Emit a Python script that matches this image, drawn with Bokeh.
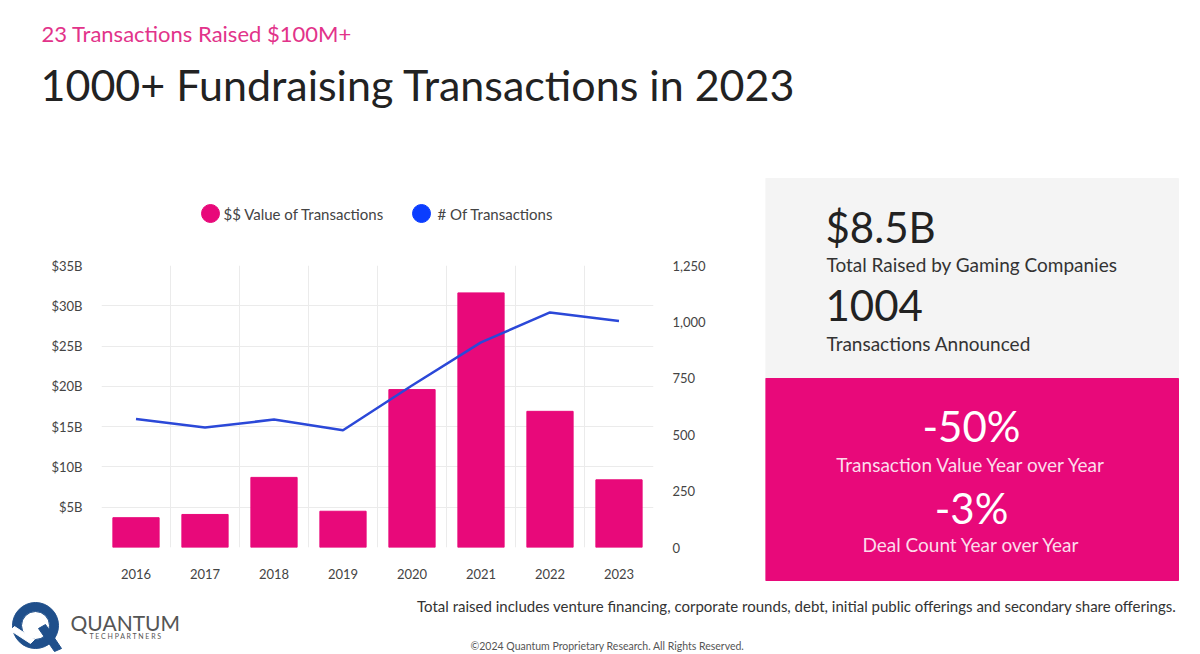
from bokeh.plotting import figure
from bokeh.models import (Range1d, LinearAxis, FixedTicker, PrintfTickFormatter,
                          NumeralTickFormatter)
from bokeh.layouts import column, row
from bokeh.core.properties import value
from bokeh.embed import file_html
from bokeh.resources import INLINE

FONT = "Lato"

# ---------------- data ----------------
years = [2016, 2017, 2018, 2019, 2020, 2021, 2022, 2023]
year_labels = ["2016", "2017", "2018", "2019", "2020", "2021", "2022", "2023"]
value_bn = [3.7, 4.1, 8.7, 4.5, 19.6, 31.6, 16.9, 8.4]
deal_count = [570, 532, 567, 520, 718, 909, 1042, 1004]
value_ticks = [5, 10, 15, 20, 25, 30, 35]
count_ticks = [0, 250, 500, 750, 1000, 1250]
series_names = ["$$ Value of Transactions", "# Of Transactions"]

subtitle = "23 Transactions Raised $100M+"
title = "1000+ Fundraising Transactions in 2023"
stat_values = ["$8.5B", "1004"]
stat_labels = ["Total Raised by Gaming Companies", "Transactions Announced"]
yoy_values = ["-50%", "-3%"]
yoy_labels = ["Transaction Value Year over Year", "Deal Count Year over Year"]
footnote = ("Total raised includes venture financing, corporate rounds, debt, "
            "initial public offerings and secondary share offerings.")
copyright_text = "\u00a92024 Quantum Proprietary Research. All Rights Reserved."
logo_name = "QUANTUM"
logo_sub = "T E C H  P A R T N E R S"

PINK = "#E8097A"
BLUE_LINE = "#2B48D8"
LEGEND_BLUE = "#0B3DFF"
GREY_BOX = "#F4F4F4"
DARK = "#222222"
LOGO_BLUE = "#1F4F8B"

W = 1200
T, M, F = 160, 430, 64
LEFT_W = 765
LEG_H = 80
FR_L, FR_R = 101, 653   # chart frame edges (page px)


def canvas(w, h):
    f = figure(width=w, height=h, x_range=Range1d(0, w), y_range=Range1d(h, 0),
               min_border=0, toolbar_location=None, output_backend="svg")
    f.axis.visible = False
    f.grid.visible = False
    f.outline_line_color = None
    return f


# ---------------- top ----------------
top = canvas(W, T)
top.text(x=[41], y=[33], text=[subtitle], text_font=value(FONT), text_font_size="22px",
         text_color="#E2338A", text_baseline="middle")
top.text(x=[40], y=[84], text=[title], text_font=value(FONT), text_font_size="43px",
         text_color=DARK, text_baseline="middle")

# ---------------- legend strip (frame aligned with chart frame) ----------------
leg = figure(width=LEFT_W, height=LEG_H, x_range=Range1d(FR_L, FR_R),
             y_range=Range1d(LEG_H, 0), min_border_left=FR_L,
             min_border_right=LEFT_W - FR_R, min_border_top=0, min_border_bottom=0,
             toolbar_location=None, output_backend="svg")
leg.axis.visible = False
leg.grid.visible = False
leg.outline_line_color = None
leg.scatter(x=[210, 421], y=[53, 53], marker="circle", size=18,
            color=[PINK, LEGEND_BLUE])
leg.text(x=[223, 437], y=[53, 53], text=series_names, text_font=value(FONT),
         text_font_size="15px", text_color="#444444", text_baseline="middle")

# ---------------- chart ----------------
ch = figure(width=LEFT_W, height=M - LEG_H,
            x_range=Range1d(years[0] - 0.5, years[-1] + 0.5),
            y_range=Range1d(0, 35), min_border_left=FR_L, min_border_right=LEFT_W - FR_R,
            min_border_top=25, min_border_bottom=43, toolbar_location=None,
            output_backend="svg")
ch.outline_line_color = None
ch.extra_y_ranges = {"count": Range1d(0, 1250)}

ch.vbar(x=years, top=value_bn, width=0.67, color=PINK)
ch.line(x=years, y=deal_count, y_range_name="count", line_color=BLUE_LINE, line_width=2.5)

ch.xaxis.ticker = FixedTicker(ticks=years)
ch.xaxis.major_label_overrides = {y: l for y, l in zip(years, year_labels)}
ch.yaxis.ticker = FixedTicker(ticks=value_ticks)
ch.yaxis.formatter = PrintfTickFormatter(format="$%dB")
raxis = LinearAxis(y_range_name="count", ticker=FixedTicker(ticks=count_ticks),
                   formatter=NumeralTickFormatter(format="0,0"))
ch.add_layout(raxis, "right")

for ax in ch.axis:
    ax.axis_line_color = None
    ax.major_tick_line_color = None
    ax.minor_tick_line_color = None
    ax.major_label_text_font = FONT
    ax.major_label_text_font_size = "13px"
    ax.major_label_text_color = "#444444"
    ax.major_label_standoff = 13
ch.xaxis.major_label_standoff = 15

ch.xgrid.ticker = FixedTicker(ticks=[y - 0.5 for y in years] + [years[-1] + 0.5])
ch.ygrid.ticker = FixedTicker(ticks=[0] + value_ticks)
ch.grid.grid_line_color = "#EBEBEB"

# ---------------- right panel ----------------
pn = canvas(W - LEFT_W, M)
pn.quad(left=[0], right=[413], top=[18], bottom=[218], color=GREY_BOX)
pn.quad(left=[0], right=[413], top=[218], bottom=[420], color=PINK)
pn.text(x=[60, 60], y=[66, 145], text=stat_values, text_font=value(FONT),
        text_font_size="42px", text_color=DARK, text_baseline="middle")
pn.text(x=[61, 61], y=[104, 183], text=stat_labels, text_font=value(FONT),
        text_font_size="19px", text_color="#333333", text_baseline="middle")
pn.text(x=[206, 206], y=[265, 347], text=yoy_values, text_font=value(FONT),
        text_font_size="42px", text_color="#FFFFFF", text_baseline="middle",
        text_align="center")
pn.text(x=[206, 206], y=[304, 384], text=yoy_labels, text_font=value(FONT),
        text_font_size="19px", text_color="#FCDCEB", text_baseline="middle",
        text_align="center")

# ---------------- footer ----------------
ft = canvas(W, F)
ft.text(x=[1176], y=[15], text=[footnote], text_font=value(FONT), text_font_size="15px",
        text_color="#333333", text_baseline="middle", text_align="right")
ft.text(x=[607], y=[55], text=[copyright_text], text_font=value(FONT),
        text_font_size="10.5px", text_color="#555555", text_baseline="middle",
        text_align="center")
ft.annulus(x=[35], y=[35], inner_radius=14, outer_radius=23, color=LOGO_BLUE)
ft.patch(x=[38, 45, 61, 54], y=[38, 34, 58, 61], color=LOGO_BLUE)
ft.patch(x=[10, 14, 34, 30], y=[40, 36, 49, 53], color="#FFFFFF")
ft.text(x=[70], y=[32], text=[logo_name], text_font=value(FONT), text_font_size="21px",
        text_color="#555555", text_baseline="middle")
ft.text(x=[89], y=[45], text=[logo_sub], text_font=value(FONT), text_font_size="7px",
        text_color="#555555", text_baseline="middle")

layout = column(top, row(column(leg, ch), pn), ft)
open("out.html", "w").write(file_html(layout, INLINE))
